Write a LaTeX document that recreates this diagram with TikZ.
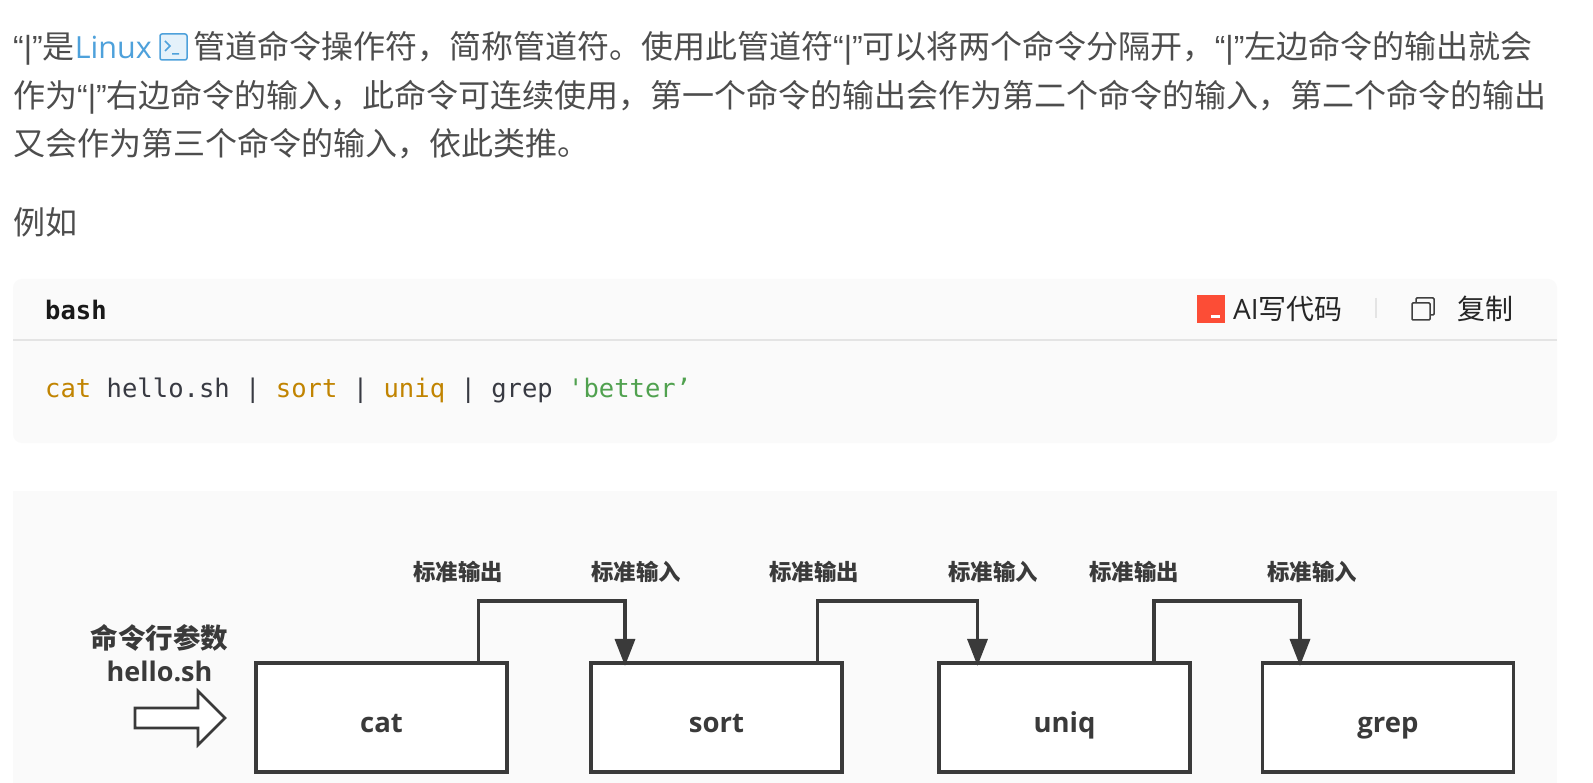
\documentclass[tikz,border=0pt]{standalone}
\usepackage{fontspec}
\usepackage{tikz}
\usetikzlibrary{arrows.meta,positioning}
\setmainfont{Noto Sans CJK SC}
\newfontfamily\latinfont{Open Sans}
\newfontfamily\quotefont{Liberation Sans}
\newfontfamily\codefont{DejaVu Sans Mono}
\definecolor{bodytext}{HTML}{4D4D4D}
\definecolor{linkblue}{HTML}{4EA1DB}
\definecolor{panelgray}{HTML}{FAFAFA}
\definecolor{rulegray}{HTML}{E4E4E4}
\definecolor{strokedark}{HTML}{3A3A3A}
\definecolor{aired}{HTML}{FC4D36}
\definecolor{codeplain}{HTML}{383A42}
\definecolor{codekey}{HTML}{C18401}
\definecolor{codestr}{HTML}{50A14F}
\newcommand{\pipesign}{{\quotefont “|”}}

\begin{document}
\begin{tikzpicture}[
    x=1pt, y=-1pt,
    bodyline/.style={anchor=base west, inner sep=0pt, text=bodytext, font=\fontsize{32}{32}\selectfont},
    toolbar/.style={anchor=base west, inner sep=0pt, text=black!85, font=\fontsize{28}{28}\selectfont},
    cmdbox/.style={draw=strokedark, fill=white, line width=3.6pt, minimum width=251pt, minimum height=109.5pt,
      inner sep=0pt, text=strokedark, text height=30pt, text depth=0pt, font=\latinfont\bfseries\fontsize{27.5}{27.5}\selectfont},
    streamlabel/.style={inner sep=0pt, text=strokedark, font=\bfseries\fontsize{22.4}{22.4}\selectfont},
    pipearrow/.style={draw=strokedark, line width=3.4pt, -{Triangle[length=27pt, width=20pt]}, shorten >=-5pt}
]

% Page and panels
\fill[white] (0,0) rectangle (1593,783);
\fill[panelgray, rounded corners=9pt] (13,279) rectangle (1557,443);
\fill[panelgray] (13,491) rectangle (1557,783);
\draw[rulegray, line width=1.6pt] (13,340) -- (1557,340);

% Paragraph
\node[bodyline] (lineonea) at (13,59) {\pipesign 是{\latinfont\fontsize{30.5}{30.5}\selectfont\color{linkblue}Linux}};
\draw[linkblue, line width=1.5pt, fill=linkblue!15, rounded corners=2pt] (160,34) rectangle (187,60);
\draw[linkblue, line width=1.5pt] (165,41) -- (170,46) -- (165,51) (172,54) -- (179,54);
\node[bodyline] (lineoneb) at (193,59) {管道命令操作符，简称管道符。使用此管道符\pipesign 可以将两个命令分隔开，\pipesign 左边命令的输出就会};
\node[bodyline] (linetwo) at (13,108) {作为\pipesign 右边命令的输入，此命令可连续使用，第一个命令的输出会作为第二个命令的输入，第二个命令的输出};
\node[bodyline] (linethree) at (13,156) {又会作为第三个命令的输入，依此类推。};
\node[bodyline] (example) at (13,235) {例如};

% Code block header
\node[anchor=base west, inner sep=0pt, text=black!90, font=\codefont\bfseries\fontsize{25.5}{25.5}\selectfont] (lang) at (45,320) {bash};
\fill[aired] (1197,295) rectangle (1225,323);
\fill[white] (1211,315) rectangle (1220,318);
\node[toolbar] (aicode) at (1233,320) {{\latinfont AI}写代码};
\draw[rulegray, line width=1.5pt] (1376,298) -- (1376,318);
\draw[black!75, line width=1.5pt, rounded corners=1pt] (1412,303) rectangle (1430,320);
\draw[black!75, line width=1.5pt, rounded corners=1pt] (1416,303) -- (1416,298) -- (1434,298) -- (1434,315) -- (1430,315);
\node[toolbar] (copy) at (1457,320) {复制};

% Code line
\node[anchor=base west, inner sep=0pt, text=codeplain, font=\codefont\fontsize{25.55}{25.55}\selectfont] (command) at (45,398)
  {\textcolor{codekey}{cat} hello.sh | \textcolor{codekey}{sort} | \textcolor{codekey}{uniq} | grep \textcolor{codestr}{'better’}};

% Command boxes
\node[cmdbox] (cat) at (381.5,717.5) {cat};
\node[cmdbox] (sort) at (716.5,717.5) {sort};
\node[cmdbox] (uniq) at (1064.5,717.5) {uniq};
\node[cmdbox] (grep) at (1388,717.5) {grep};

% Pipes between commands
\draw[pipearrow] ([xshift=97pt]cat.north) -- ++(0,-60) -| ([xshift=-91.5pt]sort.north);
\draw[pipearrow] ([xshift=101pt]sort.north) -- ++(0,-60) -| ([xshift=-87pt]uniq.north);
\draw[pipearrow] ([xshift=89.5pt]uniq.north) -- ++(0,-60) -| ([xshift=-88pt]grep.north);

% Stream labels
\foreach \name/\xpos/\lab in {outa/458/标准输出,ina/636/标准输入,outb/814/标准输出,inb/993/标准输入,outc/1134/标准输出,inc/1312/标准输入}
  \node[streamlabel] (\name) at (\xpos,572) {\lab};

% Argument
\node[inner sep=0pt, text=strokedark, font=\bfseries\fontsize{27.5}{27.5}\selectfont] (argname) at (159.5,638) {命令行参数};
\node[inner sep=0pt, text=strokedark, font=\latinfont\bfseries\fontsize{27}{27}\selectfont] (argfile) at (159.5,671) {hello.sh};
\draw[strokedark, fill=white, line width=2.6pt] (135,708) -- (198,708) -- (198,691) -- (225,718) -- (198,745) -- (198,728) -- (135,728) -- cycle;

\end{tikzpicture}
\end{document}
